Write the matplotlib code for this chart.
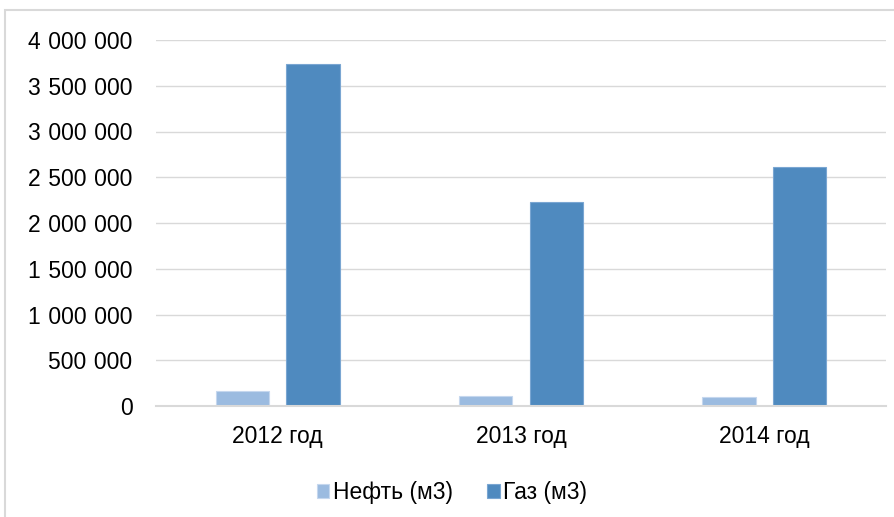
import matplotlib.pyplot as plt
from matplotlib.patches import Rectangle
import numpy as np

years = ['2012 год', '2013 год', '2014 год']
oil = [160000, 110000, 100000]
gas = [3740000, 2230000, 2610000]
series_names = ['Нефть (м3)', 'Газ (м3)']
y_ticks = [0, 500000, 1000000, 1500000, 2000000, 2500000, 3000000, 3500000, 4000000]

plt.rcParams['font.family'] = ['Liberation Sans', 'DejaVu Sans']

fig = plt.figure(figsize=(8.95, 5.17), dpi=100)

# chart frame (partly cut off in the original screenshot)
fig.patches.append(Rectangle((5 / 895, -0.1), 1.2, 1 - 10 / 517 + 0.1,
                             transform=fig.transFigure, fill=False,
                             edgecolor='#D9D9D9', linewidth=1.5))

ax = fig.add_axes([156 / 895, 1 - 406 / 517, 730 / 895, 366 / 517])

x = np.arange(len(years))
ax.bar(x - 0.145, oil, width=0.22, color='#9BBBE0', edgecolor='#C5D7EE',
       linewidth=0.8, label=series_names[0], zorder=3)
ax.bar(x + 0.145, gas, width=0.22, color='#4F8ABF', edgecolor='#7AA6D2',
       linewidth=0.8, label=series_names[1], zorder=3)

ax.set_xlim(-0.5, 2.5)
ax.set_ylim(0, 4000000)
ax.set_yticks(y_ticks)
# digit groups separated by a slightly wider space, as in the original
ax.set_yticklabels([f'{v:,}'.replace(',', '\u2004') for v in y_ticks])
ax.set_xticks(x)
ax.set_xticklabels(years)
ax.tick_params(axis='both', length=0, labelsize=16.5, colors='black')
ax.tick_params(axis='y', pad=17)
ax.tick_params(axis='x', pad=14)

ax.grid(axis='y', color='#D9D9D9', linewidth=1, zorder=0)
for s in ['top', 'right', 'left']:
    ax.spines[s].set_visible(False)
ax.spines['bottom'].set_color('#D9D9D9')
ax.spines['bottom'].set_linewidth(1.5)
ax.spines['bottom'].set_zorder(4)

ax.legend(loc='center', bbox_to_anchor=(0.505, 1 - 493 / 517),
          bbox_transform=fig.transFigure, ncol=2, frameon=False,
          fontsize=16.5, handlelength=0.55, handleheight=0.55,
          handletextpad=0.15, columnspacing=1.5)

fig.savefig('out.png', dpi=100)
